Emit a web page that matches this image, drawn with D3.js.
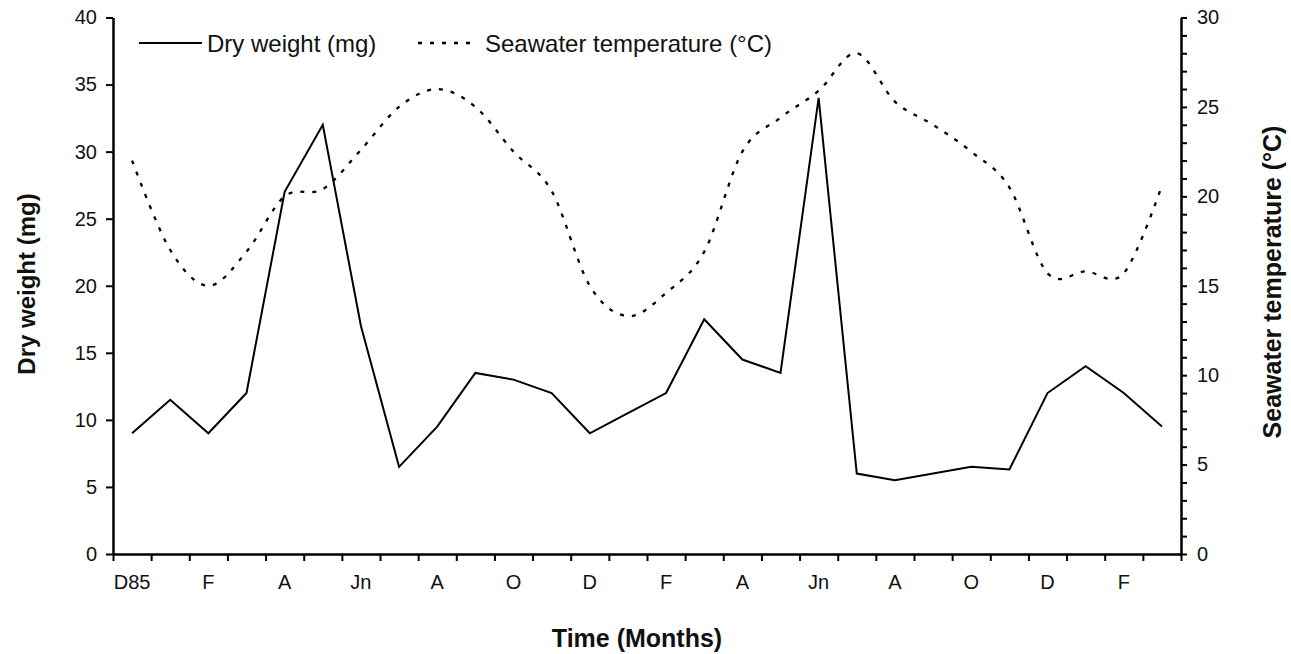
<!DOCTYPE html>
<html>
<head>
<meta charset="utf-8">
<script src="https://cdn.jsdelivr.net/npm/d3@7"></script>
<style>
  body { margin: 0; background: #fff; }
  svg { display: block; font-family: "Liberation Sans", Arial, sans-serif; }
  .axis path, .axis line { stroke: #000; }
  .axis text { fill: #111; font-size: 20px; }
</style>
</head>
<body>
<svg id="chart" width="1291" height="654"></svg>
<script>
// months Dec 1985 -> Mar 1988
const months = ["D85","J","F","M","A","M","Jn","J","A","S","O","N","D","J","F","M","A","M","Jn","J","A","S","O","N","D","J","F","M"];
const monthLabels = ["D85","F","A","Jn","A","O","D","F","A","Jn","A","O","D","F"];
const dryWeight = [9, 11.5, 9, 12, 27, 32, 17, 6.5, 9.5, 13.5, 13, 12, 9, 10.5, 12, 17.5, 14.5, 13.5, 34, 6, 5.5, 6, 6.5, 6.3, 12, 14, 12, 9.5];
const seaTemp = [22, 17, 15, 16.9, 20, 20.4, 22.6, 25, 26, 25, 22.5, 20.3, 15, 13.3, 14.6, 16.9, 22.5, 24.4, 25.9, 28, 25.3, 24, 22.5, 20.5, 15.7, 15.8, 15.7, 20.6];
const dryTicks = [0, 5, 10, 15, 20, 25, 30, 35, 40];
const tempTicks = [0, 5, 10, 15, 20, 25, 30];

const svg = d3.select("#chart");
const mLeft = 113, mRight = 1181, mTop = 17.5, mBottom = 554;

const x = d3.scaleLinear().domain([0, months.length]).range([mLeft, mRight]);
const yL = d3.scaleLinear().domain([0, 40]).range([mBottom, mTop]);
const yR = d3.scaleLinear().domain([0, 30]).range([mBottom, mTop]);

// left axis
const gl = svg.append("g").attr("class", "axis").attr("transform", `translate(${mLeft},0)`)
  .call(d3.axisLeft(yL).tickValues(dryTicks).tickSize(7).tickPadding(9).tickSizeOuter(0));
gl.select(".domain").attr("stroke-width", 2.5);
gl.selectAll(".tick line").attr("stroke-width", 2);

// right axis: minor ticks every 1, labels every 5
const gr = svg.append("g").attr("class", "axis").attr("transform", `translate(${mRight},0)`)
  .call(d3.axisRight(yR).tickValues(d3.range(0, 31)).tickSize(6).tickPadding(10).tickSizeOuter(0)
    .tickFormat(d => tempTicks.includes(d) ? d : ""));
gr.select(".domain").attr("stroke-width", 2.5);
gr.selectAll(".tick line").attr("stroke-width", 2);

// bottom axis: ticks at month boundaries
const gb = svg.append("g").attr("class", "axis").attr("transform", `translate(0,${mBottom})`)
  .call(d3.axisBottom(x).tickValues(d3.range(0, months.length + 1)).tickSize(7).tickFormat("").tickSizeOuter(0));
gb.select(".domain").attr("stroke-width", 2.5);
gb.selectAll(".tick line").attr("stroke-width", 2);

svg.append("g").selectAll("text").data(monthLabels).join("text")
  .attr("x", (d, i) => x(i * 2 + 0.5))
  .attr("y", 589)
  .attr("text-anchor", "middle")
  .attr("font-size", 20)
  .attr("fill", "#111")
  .text(d => d);

// lines
const dryLine = d3.line().x((d, i) => x(i + 0.5)).y(d => yL(d));
const tempLine = d3.line().x((d, i) => x(i + 0.5)).y(d => yR(d)).curve(d3.curveCatmullRom.alpha(0));

svg.append("path").datum(seaTemp)
  .attr("d", tempLine)
  .attr("fill", "none").attr("stroke", "#000").attr("stroke-width", 2.3)
  .attr("stroke-dasharray", "4,8");

svg.append("path").datum(dryWeight)
  .attr("d", dryLine)
  .attr("fill", "none").attr("stroke", "#000").attr("stroke-width", 2)
  .attr("stroke-linejoin", "miter");

// legend
const leg = svg.append("g");
leg.append("line").attr("x1", 139).attr("x2", 202).attr("y1", 43).attr("y2", 43)
  .attr("stroke", "#000").attr("stroke-width", 2);
leg.append("text").attr("x", 207).attr("y", 52).attr("font-size", 24).attr("fill", "#111")
  .text("Dry weight (mg)");
leg.append("line").attr("x1", 418).attr("x2", 474).attr("y1", 43).attr("y2", 43)
  .attr("stroke", "#000").attr("stroke-width", 2.3).attr("stroke-dasharray", "4,8");
leg.append("text").attr("x", 485).attr("y", 52).attr("font-size", 24).attr("fill", "#111")
  .text("Seawater temperature (°C)");

// axis titles
svg.append("text").attr("x", 637).attr("y", 647).attr("text-anchor", "middle")
  .attr("font-size", 25).attr("font-weight", "bold").attr("fill", "#111")
  .text("Time (Months)");
svg.append("text").attr("transform", "translate(35,284) rotate(-90)").attr("text-anchor", "middle")
  .attr("font-size", 24).attr("font-weight", "bold").attr("fill", "#111")
  .text("Dry weight (mg)");
svg.append("text").attr("transform", "translate(1281,282) rotate(-90)").attr("text-anchor", "middle")
  .attr("font-size", 25).attr("font-weight", "bold").attr("fill", "#111")
  .text("Seawater temperature (°C)");
</script>
</body>
</html>
